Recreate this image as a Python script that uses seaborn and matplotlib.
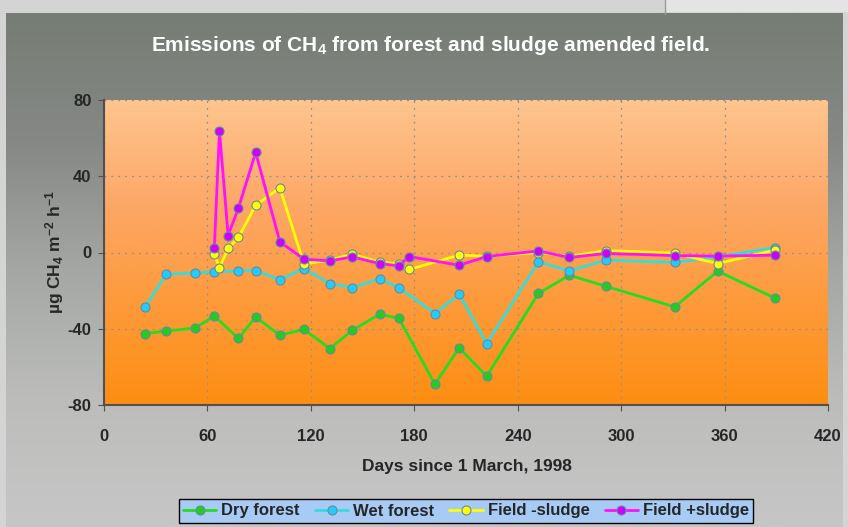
import numpy as np
import pandas as pd
import matplotlib
matplotlib.use("Agg")
import matplotlib.pyplot as plt
from matplotlib.colors import LinearSegmentedColormap
import seaborn as sns

# ---- data ----
forest_days = [24, 36, 53, 64, 78, 88, 102, 116, 131, 144, 160, 171, 192, 206, 222, 252, 270, 291, 331, 356, 389]
dry_forest = [-42.5, -41.2, -39.6, -33.3, -45.1, -33.8, -43.4, -40.3, -50.4, -40.8, -32.4, -34.5, -69.1, -50.0, -64.9, -21.5, -11.9, -17.7, -28.5, -9.8, -23.8]
wet_forest = [-28.5, -11.4, -10.7, -10.2, -9.6, -9.6, -14.2, -8.4, -16.3, -18.4, -13.8, -18.4, -32.0, -21.9, -47.8, -4.9, -9.6, -4.0, -5.2, -2.3, 2.6]
field_days = [64, 67, 72, 78, 88, 102, 116, 131, 144, 160, 171, 177, 206, 222, 252, 270, 291, 331, 356, 389]
field_minus = [-0.9, -7.9, 2.1, 7.9, 24.8, 33.9, -6.0, -4.0, -0.9, -5.0, -5.8, -8.9, -1.4, -2.0, 0.0, -2.0, 1.0, -0.3, -5.8, 1.2]
field_plus = [2.6, 63.7, 8.9, 23.4, 52.5, 5.6, -3.5, -4.4, -2.3, -5.8, -7.0, -2.1, -6.7, -2.1, 0.8, -2.6, -0.5, -1.6, -1.9, -1.4]
series_names = ["Dry forest", "Wet forest", "Field -sludge", "Field +sludge"]
x_ticks = [0, 60, 120, 180, 240, 300, 360, 420]
y_ticks = [-80, -40, 0, 40, 80]

sns.set_style("ticks")
plt.rcParams["font.family"] = ["Liberation Sans", "DejaVu Sans"]
plt.rcParams["font.weight"] = "bold"
plt.rcParams["axes.unicode_minus"] = False
plt.rcParams["mathtext.fontset"] = "custom"
plt.rcParams["mathtext.rm"] = "Liberation Sans:bold"
plt.rcParams["mathtext.bf"] = "Liberation Sans:bold"
plt.rcParams["mathtext.it"] = "Liberation Sans:bold"
plt.rcParams["mathtext.default"] = "bf"

W, H = 848, 527
fig = plt.figure(figsize=(W / 100, H / 100), dpi=100)
fig.patch.set_facecolor("#d4d4d4")

# light strip at top right
fig.add_artist(plt.Rectangle((665 / W, 1 - 12 / H), 1 - 665 / W, 12 / H, transform=fig.transFigure,
                             facecolor="#e4e4e4", edgecolor="none"))
fig.add_artist(plt.Line2D([665 / W, 665 / W], [1 - 14 / H, 1], color="#9a9a9a", lw=1))

# panel background gradient
bg = fig.add_axes([6 / W, 0, 837 / W, (H - 13) / H])
panel_cmap = LinearSegmentedColormap.from_list("panel", ["#767d74", "#868886", "#a4a7a3", "#bcbdbb", "#c6c6c6"])
bg.imshow(np.linspace(0, 1, 256).reshape(-1, 1), aspect="auto", cmap=panel_cmap, extent=[0, 1, 0, 1])
bg.set_axis_off()

ax = fig.add_axes([104 / W, 1 - 405 / H, 724 / W, 305 / H])
plot_cmap = LinearSegmentedColormap.from_list("plot", ["#fec58e", "#fda868", "#fd9a3a", "#fe8e12"])
ax.imshow(np.linspace(0, 1, 256).reshape(-1, 1), aspect="auto", cmap=plot_cmap,
          extent=[0, 420, -80, 80], zorder=0)

df_forest = pd.DataFrame({"day": forest_days, "dry": dry_forest, "wet": wet_forest})
df_field = pd.DataFrame({"day": field_days, "minus": field_minus, "plus": field_plus})

styles = [
    (df_forest, "dry", "#22dd22", "#22cc22", series_names[0]),
    (df_forest, "wet", "#33dddd", "#22ccff", series_names[1]),
    (df_field, "minus", "#ffff00", "#ffff00", series_names[2]),
    (df_field, "plus", "#ff11ff", "#cc00ff", series_names[3]),
]
for d, col, lc, fc, name in styles:
    sns.lineplot(data=d, x="day", y=col, ax=ax, color=lc, marker="o", markersize=6.5,
                 markerfacecolor=fc, markeredgecolor="#6a8a9a", markeredgewidth=0.8,
                 linewidth=2.0, label=name, sort=False, estimator=None, zorder=3)

ax.set_xlim(0, 420)
ax.set_ylim(-80, 80)
ax.set_xticks(x_ticks)
ax.set_yticks(y_ticks)
ax.grid(True, linestyle=(0, (1.5, 4)), color="#909090", linewidth=0.9, zorder=1)
for s in ["top", "right"]:
    ax.spines[s].set_visible(False)
for s in ["left", "bottom"]:
    ax.spines[s].set_color("#505050")
    ax.spines[s].set_linewidth(1.5)
ax.tick_params(axis="x", length=4, color="#505050", pad=13, labelsize=12)
ax.tick_params(axis="y", length=4, color="#505050", pad=5, labelsize=12)
for lab in ax.get_xticklabels() + ax.get_yticklabels():
    lab.set_fontweight("bold")
ax.set_xlabel("")
ax.set_ylabel("")

fig.text(0.508, 1 - 45 / H, r"Emissions of CH$_4$ from forest and sludge amended field.",
         color="white", fontweight="bold", ha="center", va="center", fontsize=15)
fig.text(55 / W, 1 - 252 / H, r"µg CH$_4$ m$^{-2}$ h$^{-1}$", rotation=90,
         fontweight="bold", ha="center", va="center", fontsize=12.5)
fig.text(467 / W, 1 - 467 / H, "Days since 1 March, 1998", fontweight="bold",
         ha="center", va="center", fontsize=12.5)

handles, labels = ax.get_legend_handles_labels()
ax.get_legend().remove()
leg = fig.legend(handles, labels, loc="center", bbox_to_anchor=(466 / W, 1 - 511 / H), ncol=4,
                 frameon=True, fancybox=False, facecolor="#a8cbf6", edgecolor="black", framealpha=1,
                 prop={"weight": "bold", "size": 12}, handlelength=2.0, handletextpad=0.3,
                 columnspacing=0.9, borderpad=0.25)
leg.get_frame().set_linewidth(1.0)

fig.savefig("out.png", dpi=100)
